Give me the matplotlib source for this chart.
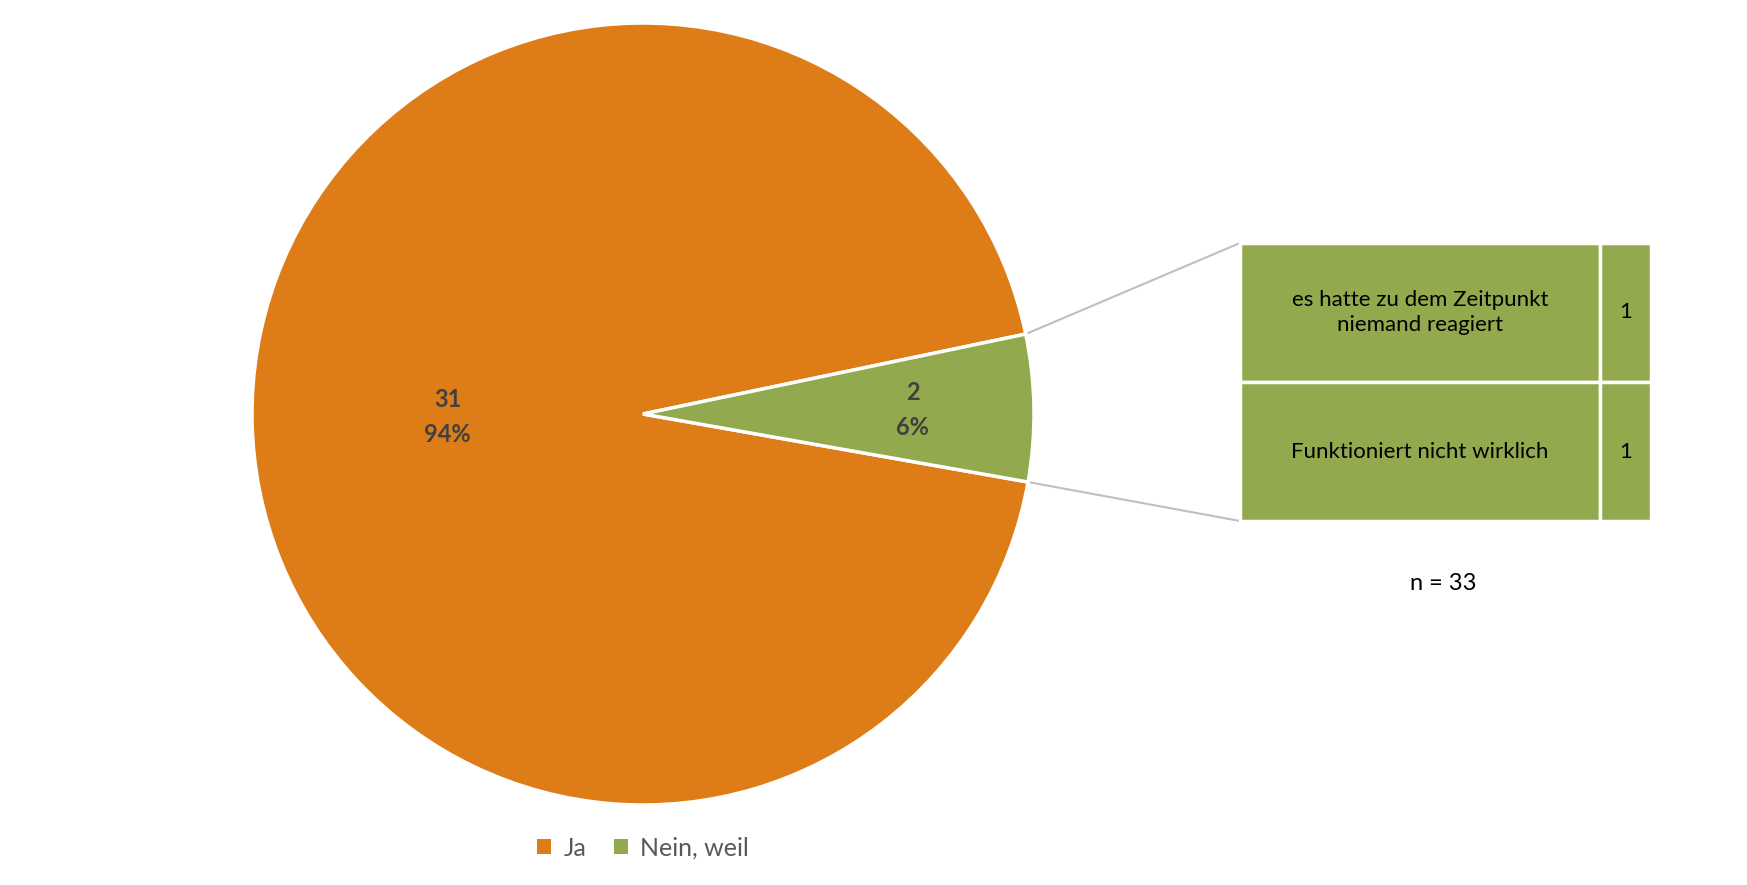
import numpy as np
import matplotlib
matplotlib.use('Agg')
from matplotlib import pyplot as plt
from matplotlib.patches import Rectangle

# data
categories = ['Ja', 'Nein, weil']
counts = [31, 2]
reasons = ['es hatte zu dem Zeitpunkt\nniemand reagiert', 'Funktioniert nicht wirklich']
reason_counts = [1, 1]
n_total = 33

ORANGE = '#DE7D18'
GREEN = '#93A94D'
LABEL = '#404040'
FONT = 'Lato'

W, H = 1747, 885
fig = plt.figure(figsize=(W / 100, H / 100), dpi=100)
ax = fig.add_axes([0, 0, 1, 1])
ax.set_xlim(0, W)
ax.set_ylim(0, H)
ax.set_aspect('equal')
ax.axis('off')

cx, cy, r = 643, H - 414, 391   # pie centre / radius in pixels (y up)
start = 11.8

wedges, _ = ax.pie(counts, colors=[ORANGE, GREEN], startangle=start,
                   center=(cx, cy), radius=r, counterclock=True,
                   wedgeprops=dict(edgecolor='white', linewidth=2.5))
ax.set_xlim(0, W)
ax.set_ylim(0, H)

# slice labels (count + percent)
total = sum(counts)
label_dist = [0.50, 0.69]
for w, c, d in zip(wedges, counts, label_dist):
    mid = np.deg2rad((w.theta1 + w.theta2) / 2)
    x = cx + d * r * np.cos(mid)
    y = cy + d * r * np.sin(mid)
    ax.text(x, y, '{}\n{:.0f}%'.format(c, 100.0 * c / total), ha='center',
            va='center', fontsize=17, fontweight='bold', color=LABEL,
            family=FONT, linespacing=1.6)

# breakdown table of "Nein, weil"
tx0, tx1, tx2 = 1240, 1600, 1651
ty_top, ty_bot = H - 243, H - 521
row_h = (ty_top - ty_bot) / len(reasons)
for i, (txt, val) in enumerate(zip(reasons, reason_counts)):
    y0 = ty_top - (i + 1) * row_h
    ax.add_patch(Rectangle((tx0, y0), tx1 - tx0, row_h, facecolor=GREEN,
                           edgecolor='white', linewidth=2.5))
    ax.add_patch(Rectangle((tx1, y0), tx2 - tx1, row_h, facecolor=GREEN,
                           edgecolor='white', linewidth=2.5))
    ax.text((tx0 + tx1) / 2, y0 + row_h / 2, txt, ha='center', va='center',
            fontsize=16, color='black', family=FONT, linespacing=1.3)
    ax.text((tx1 + tx2) / 2, y0 + row_h / 2, str(val), ha='center',
            va='center', fontsize=16, color='black', family=FONT)

# connector lines from the green slice to the table
green = wedges[1]
for ang, ty in [(green.theta2, ty_top), (green.theta1, ty_bot)]:
    a = np.deg2rad(ang)
    ax.plot([cx + r * np.cos(a), tx0], [cy + r * np.sin(a), ty],
            color='#BFBFBF', linewidth=1.5, zorder=0)

ax.text(1443, H - 583, 'n = {}'.format(n_total), ha='center', va='center',
        fontsize=17, color='black', family=FONT)

# legend
leg = ax.legend(wedges, categories, loc='center', bbox_to_anchor=(643 / W, 37 / H),
                ncol=2, frameon=False, handlelength=0.55, handleheight=0.55,
                handletextpad=0.5, columnspacing=1.1,
                prop={'family': FONT, 'size': 18})
for t in leg.get_texts():
    t.set_color('#595959')
for h in leg.legend_handles:
    h.set_edgecolor('none')

fig.savefig('out.png', dpi=100)
